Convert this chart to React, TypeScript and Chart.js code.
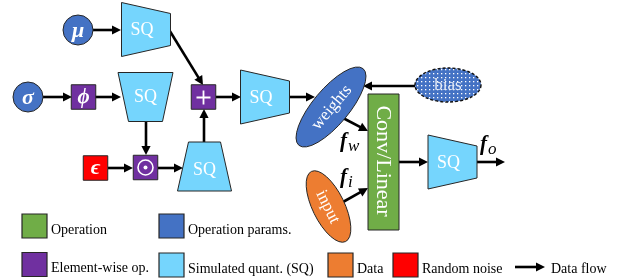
import React, { useEffect, useRef } from 'react';
import { Chart, registerables } from 'chart.js';
Chart.register(...registerables);

// ---------------- data (diagram coordinates in scale units) ----------------
// Simulated quantizer (SQ) blocks
const sqX = [146, 145.5, 265, 204.5, 452.5];
const sqY = [29.5, 97, 97, 166.5, 162];
const sqDir = ['right', 'down', 'right', 'up', 'right'];

// Parameter circles
const paramLabels = ['μ', 'σ'];
const paramX = [78, 28];
const paramY = [30, 97];

// Element-wise ops / noise squares
const opKinds = ['phi', 'plus', 'odot', 'eps'];
const opX = [83.5, 203.5, 145.5, 95.5];
const opY = [97, 97, 167.5, 168];

// Ellipses
const ellipseLabels = ['weights', 'input', 'bias'];
const ellipseX = [331, 328.5, 448];
const ellipseY = [107, 206.5, 85];
const ellipseAngle = [-50, 64, 0];

// Conv/Linear block
const convLabel = 'Conv/Linear';
const convX = [368, 399];
const convY = [94, 230];

// Data-flow arrows [x1, y1, x2, y2]
const arrowX1 = [93, 168, 43, 95, 146, 108, 158, 204, 216, 289, 415, 343, 343, 399, 477];
const arrowY1 = [30, 28, 97, 97, 122, 168, 168, 143, 97, 97, 86, 118, 202, 162, 162];
const arrowX2 = [121, 203, 72, 121, 146, 133, 183, 204, 241, 315, 363, 368, 368, 428, 505];
const arrowY2 = [30, 85, 97, 97, 155, 168, 168, 109, 97, 97, 86, 131, 188, 162, 162];

// Feature labels
const featMain = ['f', 'f', 'f'];
const featSub = ['w', 'i', 'o'];
const featX = [340, 340, 480];
const featY = [147, 183, 150];

// Legend
const legendLabels = ['Operation', 'Operation params.', 'Element-wise op.', 'Simulated quant. (SQ)', 'Data', 'Random noise'];
const legendX = [22, 159, 22, 159, 328, 393];
const legendY = [214, 214, 252.5, 253, 253, 253];
const legendColorKeys = ['green', 'blue', 'purple', 'sq', 'orange', 'red'];
const legendArrowLabel = 'Data flow';

// ---------------- styles ----------------
const COLORS: Record<string, string> = {
  sq: '#75D5FD',
  blue: '#4472C4',
  purple: '#7030A0',
  green: '#70AD47',
  orange: '#ED7D31',
  red: '#FF0000',
  border: '#262626',
};
const SERIF = "'Liberation Serif', 'DejaVu Serif', serif";
const SQ_GEOM = { long: 54, short: 32, depth: 49 };
const OP_SIZE = 24.5;
const CIRCLE_R = 15;
const ELLIPSE_AXES = [[50, 18], [39, 16], [33, 17]];

const diagramPlugin = {
  id: 'diagram',
  afterDatasetsDraw(chart: any) {
    const ctx: CanvasRenderingContext2D = chart.ctx;
    const xs = chart.scales.x;
    const ys = chart.scales.y;
    const px = (v: number) => xs.getPixelForValue(v);
    const py = (v: number) => ys.getPixelForValue(v);
    ctx.save();

    const strokeBorder = (w = 1) => {
      ctx.lineWidth = w;
      ctx.strokeStyle = COLORS.border;
      ctx.stroke();
    };

    const arrow = (x1: number, y1: number, x2: number, y2: number, lw = 2.6, hl = 9, hw = 4.6) => {
      const ang = Math.atan2(y2 - y1, x2 - x1);
      const bx = x2 - Math.cos(ang) * hl;
      const by = y2 - Math.sin(ang) * hl;
      ctx.beginPath();
      ctx.moveTo(x1, y1);
      ctx.lineTo(bx + Math.cos(ang) * 1, by + Math.sin(ang) * 1);
      ctx.lineWidth = lw;
      ctx.strokeStyle = '#000';
      ctx.lineCap = 'butt';
      ctx.stroke();
      ctx.beginPath();
      ctx.moveTo(x2, y2);
      ctx.lineTo(bx + Math.sin(ang) * hw, by - Math.cos(ang) * hw);
      ctx.lineTo(bx - Math.sin(ang) * hw, by + Math.cos(ang) * hw);
      ctx.closePath();
      ctx.fillStyle = '#000';
      ctx.fill();
    };

    for (let i = 0; i < arrowX1.length; i++) {
      arrow(px(arrowX1[i]), py(arrowY1[i]), px(arrowX2[i]), py(arrowY2[i]));
    }

    // SQ blocks
    const { long: L, short: S, depth: D } = SQ_GEOM;
    for (let i = 0; i < sqX.length; i++) {
      const cx = px(sqX[i]);
      const cy = py(sqY[i]);
      let pts: number[][];
      let tx = cx, ty = cy;
      if (sqDir[i] === 'right') {
        pts = [[cx - D / 2, cy - L / 2], [cx + D / 2, cy - S / 2], [cx + D / 2, cy + S / 2], [cx - D / 2, cy + L / 2]];
        tx = cx - 4;
      } else if (sqDir[i] === 'down') {
        pts = [[cx - L / 2 - 0.5, cy - D / 2], [cx + L / 2 + 0.5, cy - D / 2], [cx + S / 2 + 1, cy + D / 2], [cx - S / 2 - 1, cy + D / 2]];
        ty = cy - 1;
      } else {
        pts = [[cx - S / 2, cy - D / 2], [cx + S / 2, cy - D / 2], [cx + L / 2, cy + D / 2], [cx - L / 2, cy + D / 2]];
        ty = cy + 3;
      }
      ctx.beginPath();
      ctx.moveTo(pts[0][0], pts[0][1]);
      for (let k = 1; k < pts.length; k++) ctx.lineTo(pts[k][0], pts[k][1]);
      ctx.closePath();
      ctx.fillStyle = COLORS.sq;
      ctx.fill();
      strokeBorder(1);
      ctx.fillStyle = '#fff';
      ctx.font = `18px ${SERIF}`;
      ctx.textAlign = 'center';
      ctx.textBaseline = 'middle';
      ctx.fillText('SQ', tx, ty + 1);
    }

    // parameter circles
    for (let i = 0; i < paramLabels.length; i++) {
      const cx = px(paramX[i]);
      const cy = py(paramY[i]);
      ctx.beginPath();
      ctx.arc(cx, cy, CIRCLE_R, 0, Math.PI * 2);
      ctx.fillStyle = COLORS.blue;
      ctx.fill();
      strokeBorder(1);
      ctx.fillStyle = '#fff';
      ctx.font = `italic bold 22px ${SERIF}`;
      ctx.textAlign = 'center';
      ctx.textBaseline = 'middle';
      ctx.fillText(paramLabels[i], cx, cy + 1);
    }

    // op squares
    for (let i = 0; i < opKinds.length; i++) {
      const cx = px(opX[i]);
      const cy = py(opY[i]);
      const h = OP_SIZE / 2;
      ctx.beginPath();
      ctx.rect(cx - h, cy - h, OP_SIZE, OP_SIZE);
      ctx.fillStyle = opKinds[i] === 'eps' ? COLORS.red : COLORS.purple;
      ctx.fill();
      strokeBorder(1);
      ctx.fillStyle = '#fff';
      ctx.strokeStyle = '#fff';
      ctx.textAlign = 'center';
      ctx.textBaseline = 'middle';
      if (opKinds[i] === 'phi') {
        ctx.font = `italic bold 21px ${SERIF}`;
        ctx.fillText('ϕ', cx, cy + 1);
      } else if (opKinds[i] === 'eps') {
        ctx.font = `italic bold 22px ${SERIF}`;
        ctx.fillText('ϵ', cx, cy);
      } else if (opKinds[i] === 'plus') {
        ctx.beginPath();
        ctx.moveTo(cx - 7, cy + 0.5);
        ctx.lineTo(cx + 7, cy + 0.5);
        ctx.moveTo(cx, cy - 6.5);
        ctx.lineTo(cx, cy + 7.5);
        ctx.lineWidth = 1.8;
        ctx.stroke();
      } else {
        ctx.beginPath();
        ctx.arc(cx, cy, 7.5, 0, Math.PI * 2);
        ctx.lineWidth = 1.6;
        ctx.stroke();
        ctx.beginPath();
        ctx.arc(cx, cy, 2, 0, Math.PI * 2);
        ctx.fill();
      }
    }

    // Conv/Linear block
    {
      const x1 = px(convX[0]), x2 = px(convX[1]);
      const y1 = py(convY[0]), y2 = py(convY[1]);
      ctx.beginPath();
      ctx.rect(x1, y1, x2 - x1, y2 - y1);
      ctx.fillStyle = COLORS.green;
      ctx.fill();
      strokeBorder(1);
      ctx.save();
      ctx.translate((x1 + x2) / 2, (y1 + y2) / 2);
      ctx.rotate(Math.PI / 2);
      ctx.fillStyle = '#fff';
      ctx.font = `22px ${SERIF}`;
      ctx.textAlign = 'center';
      ctx.textBaseline = 'middle';
      ctx.fillText(convLabel, -1, 1);
      ctx.restore();
    }

    // dotted pattern for bias
    const pc = document.createElement('canvas');
    pc.width = 4;
    pc.height = 4;
    const pctx = pc.getContext('2d')!;
    pctx.fillStyle = COLORS.blue;
    pctx.fillRect(0, 0, 4, 4);
    pctx.fillStyle = '#ffffff';
    pctx.fillRect(1, 1, 1.3, 1.3);
    const pattern = ctx.createPattern(pc, 'repeat');

    // ellipses
    for (let i = 0; i < ellipseLabels.length; i++) {
      const cx = px(ellipseX[i]);
      const cy = py(ellipseY[i]);
      const [a, b] = ELLIPSE_AXES[i];
      const rot = (ellipseAngle[i] * Math.PI) / 180;
      ctx.beginPath();
      ctx.ellipse(cx, cy, a, b, rot, 0, Math.PI * 2);
      if (ellipseLabels[i] === 'bias') {
        ctx.fillStyle = pattern || COLORS.blue;
        ctx.fill();
        ctx.setLineDash([3, 2]);
        ctx.lineWidth = 1.4;
        ctx.strokeStyle = '#111';
        ctx.stroke();
        ctx.setLineDash([]);
      } else {
        ctx.fillStyle = ellipseLabels[i] === 'input' ? COLORS.orange : COLORS.blue;
        ctx.fill();
        strokeBorder(1);
      }
      ctx.save();
      ctx.translate(cx, cy);
      ctx.rotate(rot);
      ctx.fillStyle = ellipseLabels[i] === 'bias' ? '#e6ecf7' : '#fff';
      ctx.font = `17px ${SERIF}`;
      ctx.textAlign = 'center';
      ctx.textBaseline = 'middle';
      ctx.fillText(ellipseLabels[i], 0, 1);
      ctx.restore();
    }

    // feature labels
    for (let i = 0; i < featMain.length; i++) {
      const x = px(featX[i]);
      const y = py(featY[i]);
      ctx.fillStyle = '#000';
      ctx.textAlign = 'left';
      ctx.textBaseline = 'alphabetic';
      ctx.font = `italic bold 21px ${SERIF}`;
      ctx.fillText(featMain[i], x, y);
      const w = ctx.measureText(featMain[i]).width;
      ctx.font = `italic 17px ${SERIF}`;
      ctx.fillText(featSub[i], x + w + 1, y + 4);
    }

    // legend
    for (let i = 0; i < legendLabels.length; i++) {
      const x = px(legendX[i]);
      const y = py(legendY[i]);
      ctx.beginPath();
      ctx.rect(x, y, 25, 24);
      ctx.fillStyle = COLORS[legendColorKeys[i]];
      ctx.fill();
      strokeBorder(1.2);
      ctx.fillStyle = '#000';
      ctx.font = `14px ${SERIF}`;
      ctx.textAlign = 'left';
      ctx.textBaseline = 'alphabetic';
      ctx.fillText(legendLabels[i], x + 29, y + 19.5);
    }
    arrow(px(515), py(267), px(545), py(267), 2.6, 9, 4.5);
    ctx.fillStyle = '#000';
    ctx.font = `14px ${SERIF}`;
    ctx.textAlign = 'left';
    ctx.fillText(legendArrowLabel, px(551), py(272.5));

    ctx.restore();
  },
};

export default function App() {
  const ref = useRef<HTMLCanvasElement | null>(null);
  useEffect(() => {
    let chart: Chart | null = null;
    let cancelled = false;
    const fontLoads = [
      '14px "Liberation Serif"',
      '22px "Liberation Serif"',
      'italic 17px "Liberation Serif"',
      'italic bold 21px "Liberation Serif"',
    ].map((f) => (document as any).fonts.load(f, 'SQ abc μσ').catch(() => null));
    Promise.all(fontLoads).then(() => {
      if (cancelled || !ref.current) return;
      chart = new Chart(ref.current, {
        type: 'scatter',
        data: {
          datasets: [
            {
              data: sqX.map((x, i) => ({ x, y: sqY[i] })),
              pointRadius: 0,
            },
          ],
        },
        options: {
          responsive: false,
          animation: false,
          events: [],
          layout: { padding: 0 },
          scales: {
            x: { type: 'linear', min: 0, max: 618, display: false },
            y: { type: 'linear', min: 0, max: 280, reverse: true, display: false },
          },
          plugins: { legend: { display: false }, tooltip: { enabled: false } },
        },
        plugins: [diagramPlugin],
      });
    });
    return () => {
      cancelled = true;
      if (chart) chart.destroy();
    };
  }, []);
  return (
    <div style={{ position: 'fixed', left: 0, top: 0, width: 618, height: 280, background: '#fff' }}>
      <canvas ref={ref} width={618} height={280} />
    </div>
  );
}
